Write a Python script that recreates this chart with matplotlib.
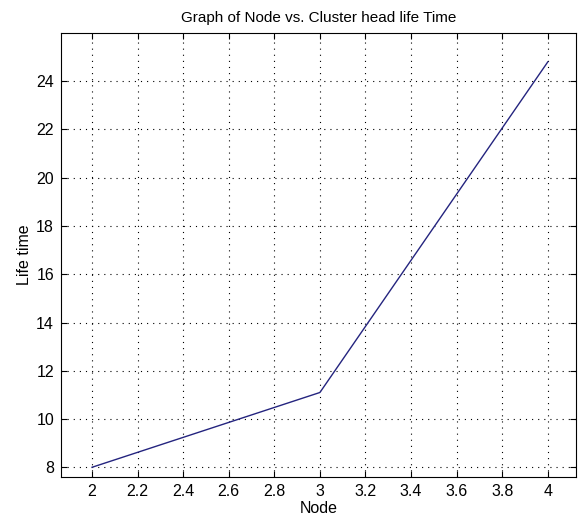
import matplotlib
matplotlib.use('Agg')
import matplotlib.pyplot as plt

# Data
nodes = [2, 3, 4]
life_time = [8.0, 11.1, 24.8]
x_ticks = [2, 2.2, 2.4, 2.6, 2.8, 3, 3.2, 3.4, 3.6, 3.8, 4]
y_ticks = [8, 10, 12, 14, 16, 18, 20, 22, 24]

plt.rcParams['font.family'] = ['Liberation Sans Narrow', 'Liberation Sans', 'DejaVu Sans']
plt.rcParams['font.size'] = 11

fig = plt.figure(figsize=(5.79, 5.19), dpi=100)
ax = fig.add_axes([0.1054, 0.0815, 0.8895, 0.855])

ax.plot(nodes, life_time, color='#24247f', lw=1.0)

ax.set_xlim(1.864, 4.124)
ax.set_ylim(7.61, 26.0)
ax.set_xticks(x_ticks)
ax.set_xticklabels(['%g' % t for t in x_ticks])
ax.set_yticks(y_ticks)
ax.grid(True, color='black', linestyle=(0, (1, 4.5)), linewidth=0.8)
ax.tick_params(direction='in', top=True, right=True, length=4, width=0.8,
               labelsize=11.5, pad=5)
for sp in ax.spines.values():
    sp.set_linewidth(0.8)

ax.set_title('Graph of Node vs. Cluster head life Time', fontsize=11, pad=8)
ax.set_xlabel('Node', fontsize=11.5, labelpad=2)
ax.set_ylabel('Life time', fontsize=11.5, labelpad=3)

fig.savefig('out.png', dpi=100)
